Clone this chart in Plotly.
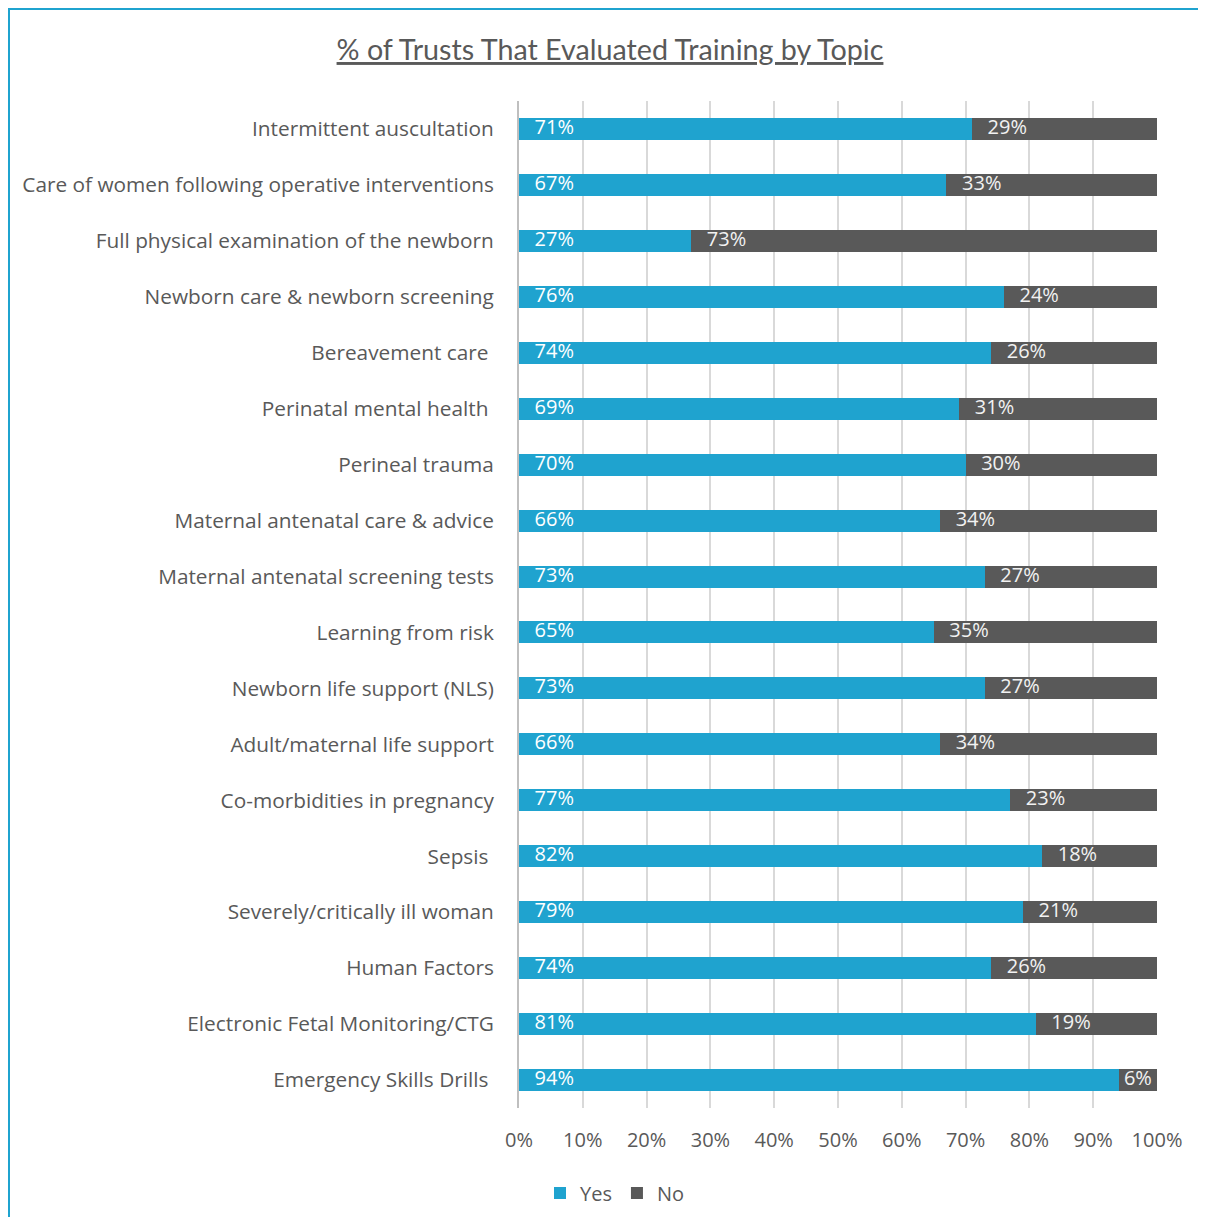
import plotly.graph_objects as go

categories = [
    "Intermittent auscultation",
    "Care of women following operative interventions",
    "Full physical examination of the newborn",
    "Newborn care & newborn screening",
    "Bereavement care\u00a0",
    "Perinatal mental health\u00a0",
    "Perineal trauma",
    "Maternal antenatal care & advice",
    "Maternal antenatal screening tests",
    "Learning from risk",
    "Newborn life support (NLS)",
    "Adult/maternal life support",
    "Co-morbidities in pregnancy",
    "Sepsis\u00a0",
    "Severely/critically ill woman",
    "Human Factors",
    "Electronic Fetal Monitoring/CTG",
    "Emergency Skills Drills\u00a0",
]
yes_values = [71, 67, 27, 76, 74, 69, 70, 66, 73, 65, 73, 66, 77, 82, 79, 74, 81, 94]
no_values = [29, 33, 73, 24, 26, 31, 30, 34, 27, 35, 27, 34, 23, 18, 21, 26, 19, 6]

YES_COLOR = "#1FA3CF"
NO_COLOR = "#595959"
TEXT_GRAY = "#595959"
FONT = "Open Sans"
PAD = "\u00a0\u00a0\u00a0"


def label(v):
    return (PAD if v >= 10 else "\u00a0") + f"{v}%"


# page offset from the default body margin
OFF = 8
W, H = 1206 - 2 * OFF, 1225 - 2 * OFF
L = 519 - OFF
R = (OFF + W) - 1157
T = 101 - OFF
B = (OFF + H) - 1108
PW, PH = W - L - R, H - T - B

fig = go.Figure()
fig.add_trace(go.Bar(
    y=categories, x=yes_values, name="Yes", orientation="h",
    marker=dict(color=YES_COLOR, line=dict(width=0)),
    hoverinfo="x+y",
))
fig.add_trace(go.Bar(
    y=categories, x=no_values, name="No", orientation="h",
    marker=dict(color=NO_COLOR, line=dict(width=0)),
    hoverinfo="x+y",
))
# data labels placed at the base of each segment
fig.add_trace(go.Scatter(
    y=categories, x=[0] * len(yes_values), mode="text",
    text=[label(v) for v in yes_values], textposition="middle right",
    textfont=dict(family=FONT, size=20, color="white"),
    showlegend=False, hoverinfo="skip",
))
fig.add_trace(go.Scatter(
    y=categories, x=yes_values, mode="text",
    text=[label(v) for v in no_values], textposition="middle right",
    textfont=dict(family=FONT, size=20, color="#F2F2F2"),
    showlegend=False, hoverinfo="skip",
))

fig.update_layout(
    width=W, height=H,
    barmode="stack", bargap=0.607,
    margin=dict(l=L, r=R, t=T, b=B, autoexpand=False),
    paper_bgcolor="white", plot_bgcolor="white",
    font=dict(family=FONT, size=20, color=TEXT_GRAY),
    title=dict(text="<u>% of Trusts That Evaluated Training by Topic</u>",
               x=(610 - OFF) / W, xanchor="center",
               y=1 - (50 - OFF) / H, yanchor="middle",
               font=dict(family="Lato", size=28.7, color=TEXT_GRAY)),
    legend=dict(orientation="h", x=(615 - OFF - L) / PW, xanchor="center",
                y=-(1193 - 1108) / PH, yanchor="middle",
                font=dict(family=FONT, size=20, color=TEXT_GRAY),
                itemwidth=30, traceorder="normal"),
    xaxis=dict(range=[0, 100], dtick=10, ticksuffix="%", showgrid=True,
               gridcolor="#D9D9D9", gridwidth=2, zeroline=False,
               showline=False, ticks="", ticklabelstandoff=18,
               tickfont=dict(family=FONT, size=20, color=TEXT_GRAY),
               fixedrange=True),
    yaxis=dict(range=[len(categories) - 0.5, -0.5], autorange=False,
               showgrid=False, ticks="",
               showline=True, linecolor="#BFBFBF", linewidth=2,
               ticklabelstandoff=19,
               tickfont=dict(family=FONT, size=20.8, color=TEXT_GRAY),
               fixedrange=True),
    shapes=[dict(type="rect", xref="paper", yref="paper",
                 x0=-(L - 1) / PW, x1=1 + (R + 10) / PW,
                 y0=-(B + 10) / PH, y1=1 + (T - 1) / PH,
                 line=dict(color="#1FA3CF", width=2), fillcolor="rgba(0,0,0,0)",
                 layer="below")],
)

fig.write_html("out.html")
